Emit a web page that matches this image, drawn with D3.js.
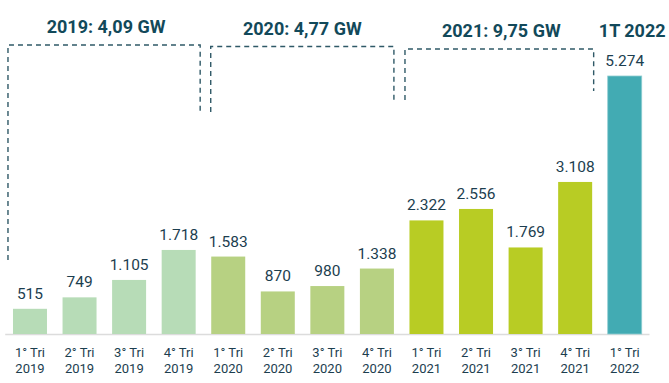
<!DOCTYPE html>
<html>
<head>
<meta charset="utf-8">
<script src="https://cdn.jsdelivr.net/npm/d3@7"></script>
<style>
  html, body { margin: 0; padding: 0; background: #fff; }
  svg { display: block; font-family: Roboto, "Noto Sans", sans-serif; }
</style>
</head>
<body>
<svg id="chart" width="669" height="383"></svg>
<script>
// ---- data ----
const quarters = ["1° Tri", "2° Tri", "3° Tri", "4° Tri", "1° Tri", "2° Tri", "3° Tri", "4° Tri", "1° Tri", "2° Tri", "3° Tri", "4° Tri", "1° Tri"];
const years = ["2019", "2019", "2019", "2019", "2020", "2020", "2020", "2020", "2021", "2021", "2021", "2021", "2022"];
const values = [515, 749, 1105, 1718, 1583, 870, 980, 1338, 2322, 2556, 1769, 3108, 5274];
const valueLabels = ["515", "749", "1.105", "1.718", "1.583", "870", "980", "1.338", "2.322", "2.556", "1.769", "3.108", "5.274"];
const groupTitles = ["2019: 4,09 GW", "2020: 4,77 GW", "2021: 9,75 GW", "1T 2022"];
const groupStart = [0, 4, 8, 12];
const groupEnd = [3, 7, 11, 12];

// ---- styles ----
const yearColor = { "2019": "#b7dcb7", "2020": "#b7d182", "2021": "#b8cc24", "2022": "#42abb3" };
const textColor = "#1c3e4f";
const titleColor = "#12495a";
const dashColor = "#2f5967";

const svg = d3.select("#chart");
const idx = d3.range(values.length);

const x = d3.scaleBand()
  .domain(idx)
  .range([5.2, 649.5])
  .paddingInner(0.314)
  .paddingOuter(0.157);

const baseY = 334;
const y = d3.scaleLinear().domain([0, 5274]).range([baseY, 76]);

// baseline
svg.append("line")
  .attr("x1", x.range()[0]).attr("x2", x.range()[1])
  .attr("y1", baseY + 0.5).attr("y2", baseY + 0.5)
  .attr("stroke", "#dcdcdc").attr("stroke-width", 1.5);

// bars
svg.append("g").selectAll("rect")
  .data(idx)
  .join("rect")
  .attr("x", i => x(i))
  .attr("y", i => y(values[i]))
  .attr("width", x.bandwidth())
  .attr("height", i => y(0) - y(values[i]))
  .attr("fill", i => yearColor[years[i]])
  .attr("stroke", i => years[i] === "2022" ? "#8fcdd1" : "none")
  .attr("stroke-width", 0.8);

// value labels
svg.append("g").selectAll("text")
  .data(idx)
  .join("text")
  .attr("x", i => x(i) + x.bandwidth() / 2)
  .attr("y", i => y(values[i]) - 10)
  .attr("text-anchor", "middle")
  .attr("font-size", 15.5)
  .attr("fill", textColor)
  .text(i => valueLabels[i]);

// x-axis labels
const xl = svg.append("g").selectAll("text")
  .data(idx)
  .join("text")
  .attr("text-anchor", "middle")
  .attr("font-size", 13)
  .attr("fill", textColor);
xl.append("tspan")
  .attr("x", i => x(i) + x.bandwidth() / 2)
  .attr("y", 357)
  .text(i => quarters[i]);
xl.append("tspan")
  .attr("x", i => x(i) + x.bandwidth() / 2)
  .attr("y", 372.5)
  .text(i => years[i]);

// brackets (layout offsets relative to the band scale)
const brackets = [
  { g: 0, left: x(0) - 5, right: x(3) + x.bandwidth() + 4.5, top: 45, leftBottom: 260, rightBottom: 112 },
  { g: 1, left: x(4) - 0.5, right: x(7) + x.bandwidth(), top: 46.5, leftBottom: 112, rightBottom: 100 },
  { g: 2, left: x(8) - 4.5, right: x(11) + x.bandwidth() + 1.5, top: 49, leftBottom: 100, rightBottom: 91 }
];
const bg = svg.append("g")
  .attr("fill", "none")
  .attr("stroke", dashColor)
  .attr("stroke-width", 1.4)
  .attr("stroke-dasharray", "5,4");
brackets.forEach(b => {
  bg.append("path")
    .attr("d", `M${b.left},${b.leftBottom} L${b.left},${b.top} L${b.right},${b.top} L${b.right},${b.rightBottom}`);
});

// group titles
const titleBase = [33, 35, 37, 37];
const titleX = [
  (brackets[0].left + brackets[0].right) / 2 + 2,
  (brackets[1].left + brackets[1].right) / 2,
  (brackets[2].left + brackets[2].right) / 2 + 2,
  x(12) + x.bandwidth() / 2 + 7.5
];
svg.append("g").selectAll("text")
  .data(groupTitles)
  .join("text")
  .attr("x", (d, i) => titleX[i])
  .attr("y", (d, i) => titleBase[i])
  .attr("text-anchor", "middle")
  .attr("font-size", 18)
  .attr("font-weight", "bold")
  .attr("fill", titleColor)
  .text(d => d);
</script>
</body>
</html>
